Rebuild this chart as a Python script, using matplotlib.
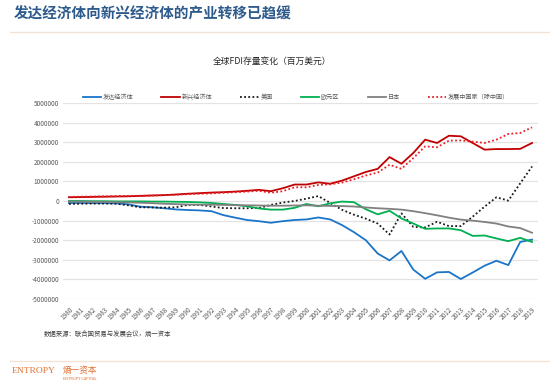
import matplotlib
matplotlib.use("Agg")
import matplotlib.pyplot as plt
from matplotlib.lines import Line2D
import numpy as np

plt.rcParams['font.family'] = ['Noto Sans CJK SC', 'DejaVu Sans']

years = [str(y) for y in range(1980, 2020)]

developed = [-0.10, -0.10, -0.11, -0.11, -0.12, -0.17, -0.29, -0.32, -0.37, -0.43,
             -0.46, -0.48, -0.52, -0.72, -0.85, -0.97, -1.03, -1.11, -1.03, -0.97,
             -0.94, -0.84, -0.94, -1.23, -1.59, -2.00, -2.68, -3.03, -2.55, -3.50,
             -3.97, -3.64, -3.62, -3.98, -3.65, -3.30, -3.05, -3.27, -2.09, -1.97]
emerging = [0.19, 0.20, 0.21, 0.22, 0.23, 0.24, 0.26, 0.28, 0.30, 0.33,
            0.37, 0.40, 0.43, 0.45, 0.48, 0.52, 0.57, 0.50, 0.65, 0.84,
            0.84, 0.95, 0.88, 1.04, 1.26, 1.48, 1.64, 2.24, 1.90, 2.45,
            3.13, 2.96, 3.33, 3.30, 2.96, 2.62, 2.65, 2.65, 2.66, 2.96]
usa = [-0.15, -0.14, -0.13, -0.13, -0.14, -0.22, -0.32, -0.33, -0.34, -0.32,
       -0.20, -0.20, -0.28, -0.36, -0.37, -0.37, -0.36, -0.20, -0.08, 0.00,
       0.12, 0.25, -0.10, -0.45, -0.70, -0.90, -1.15, -1.71, -0.63, -1.32,
       -1.35, -1.06, -1.28, -1.28, -0.80, -0.29, 0.19, 0.02, 0.90, 1.76]
euro = [0.00, 0.00, -0.01, -0.01, -0.02, -0.02, -0.02, -0.03, -0.03, -0.04,
        -0.05, -0.07, -0.10, -0.15, -0.20, -0.27, -0.38, -0.44, -0.44, -0.35,
        -0.15, -0.27, -0.12, -0.03, -0.06, -0.42, -0.68, -0.50, -0.89, -1.15,
        -1.42, -1.40, -1.40, -1.49, -1.78, -1.76, -1.91, -2.05, -1.88, -2.09]
japan = [-0.03, -0.03, -0.04, -0.05, -0.06, -0.07, -0.09, -0.11, -0.14, -0.16,
         -0.18, -0.19, -0.19, -0.20, -0.21, -0.22, -0.23, -0.24, -0.24, -0.23,
         -0.22, -0.24, -0.25, -0.26, -0.28, -0.33, -0.37, -0.40, -0.44, -0.52,
         -0.62, -0.73, -0.85, -0.95, -1.00, -1.07, -1.15, -1.30, -1.38, -1.62]
developing_ex_china = [0.21, 0.22, 0.23, 0.24, 0.25, 0.26, 0.27, 0.28, 0.30, 0.32,
                       0.35, 0.37, 0.39, 0.42, 0.45, 0.48, 0.52, 0.42, 0.50, 0.70,
                       0.70, 0.82, 0.85, 0.94, 1.11, 1.30, 1.45, 1.85, 1.64, 2.19,
                       2.79, 2.74, 3.08, 3.09, 3.03, 2.96, 3.13, 3.42, 3.47, 3.76]

series_names = ['发达经济体', '新兴经济体', '美国', '欧元区', '日本', '发展中国家（除中国）']
yticks = [5000000, 4000000, 3000000, 2000000, 1000000, 0,
          -1000000, -2000000, -3000000, -4000000, -5000000]

fig = plt.figure(figsize=(5.5, 3.85), dpi=100)
fig.patch.set_facecolor('white')

ax = fig.add_axes([63/550, 1-299/385, (538-63)/550, (299-103)/385])
x = np.arange(len(years))
scale = 1e6
styles = [
    (developed, '#1A75C9', '-'),
    (emerging, '#C00000', '-'),
    (usa, '#1A1A1A', (0, (1, 1.3))),
    (euro, '#00B050', '-'),
    (japan, '#808080', '-'),
    (developing_ex_china, '#E8202A', (0, (1, 1.3))),
]
handles = []
for (vals, c, ls), name in zip(styles, series_names):
    ln, = ax.plot(x, np.array(vals) * scale, color=c, lw=1.3, ls=ls, label=name, zorder=3)
    handles.append(ln)

ax.set_xlim(-0.5, len(years) - 0.5)
ax.set_ylim(-5000000, 5000000)
ax.set_yticks(yticks)
ax.set_yticklabels([str(v) for v in yticks], fontsize=4.6, color='#595959')
ax.set_xticks(x)
ax.set_xticklabels(years, rotation=45, fontsize=4.6, color='#595959',
                   ha='right', rotation_mode='anchor')
ax.grid(axis='y', color='#E3E3E3', lw=0.9)
ax.set_axisbelow(True)
for s in ax.spines.values():
    s.set_visible(False)
ax.tick_params(length=0, pad=3)
ax.tick_params(axis='x', pad=5)

fig.legend(handles=handles, loc='center', bbox_to_anchor=(296/550, 1-97/385),
           ncol=6, frameon=False, fontsize=4.4, handlelength=3.0,
           columnspacing=4.6, handletextpad=0.3, labelcolor='#595959')

# Header
fig.text(14/550, 1-14/385, '发达经济体向新兴经济体的产业转移已趋缓', fontsize=10.5,
         fontweight='bold', color='#2E5B8D', ha='left', va='center')
fig.add_artist(Line2D([10/550, 1.0], [1-32/385, 1-32/385], color='#F2E3D6', lw=1.0))
fig.text(272/550, 1-61/385, '全球FDI存量变化（百万美元）', fontsize=6.3,
         color='#262626', ha='center', va='center')

fig.text(44/550, 1-334/385, '数据来源：联合国贸易与发展会议，熵一资本', fontsize=4.6,
         color='#404040', ha='left', va='center')

fig.add_artist(Line2D([10/550, 1.0], [1-361/385, 1-361/385], color='#F2E3D6', lw=1.0))
fig.text(12/550, 1-371/385, 'ENTROPY', fontsize=6.8, color='#E07030',
         ha='left', va='center', family=['Liberation Serif'])
fig.text(63/550, 1-370/385, '熵一资本', fontsize=6.2, color='#E07030',
         ha='left', va='center')
fig.text(63/550, 1-379/385, 'ENTROPY CAPITAL', fontsize=2.8, color='#E07030',
         ha='left', va='center')

fig.savefig('out.png', dpi=100, facecolor='white')
